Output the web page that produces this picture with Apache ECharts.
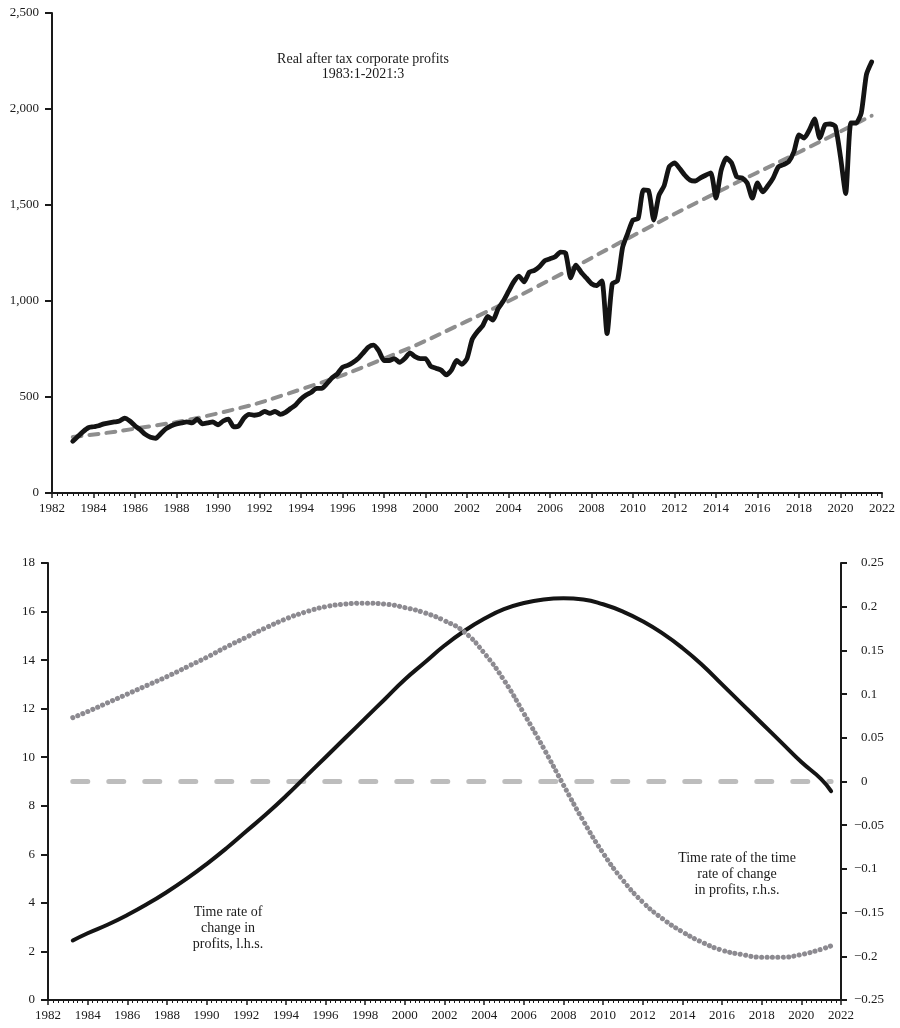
<!DOCTYPE html>
<html>
<head>
<meta charset="utf-8">
<script src="https://cdn.jsdelivr.net/npm/echarts@6/dist/echarts.min.js"></script>
<style>
html,body{margin:0;padding:0;background:#fff;}
#c{width:900px;height:1028px;}
</style>
</head>
<body>
<div id="c"></div>
<script>
// ---- Top panel: real after tax corporate profits, quarterly 1983:1 - 2021:3 ----
const profitsStart = 1983;
const profits = [
  270, 295, 320, 340,
  345, 350, 360, 365,
  370, 375, 390, 375,
  350, 330, 305, 290,
  285, 310, 335, 350,
  360, 365, 370, 365,
  385, 360, 365, 370,
  355, 375, 385, 345,
  350, 390, 410, 405,
  410, 425, 415, 425,
  410, 420, 440, 460,
  490, 510, 525, 545,
  545, 570, 600, 620,
  655, 665, 680, 700,
  730, 760, 770, 740,
  690, 690, 700, 680,
  700, 730, 710, 700,
  700, 660, 650, 640,
  615, 640, 690, 670,
  700, 800, 840, 870,
  920, 900, 960, 1000,
  1050, 1100, 1130, 1100,
  1150, 1160, 1180, 1210,
  1220, 1230, 1255, 1250,
  1120, 1187, 1150, 1120,
  1090, 1080, 1105, 830,
  1090, 1105, 1280, 1354,
  1422, 1430, 1578, 1575,
  1422, 1550, 1600, 1700,
  1719, 1690, 1655, 1630,
  1625, 1641, 1655, 1667,
  1536, 1682, 1745, 1719,
  1646, 1641, 1615, 1536,
  1615, 1568, 1600, 1640,
  1698, 1710, 1725, 1776,
  1865, 1849, 1891, 1948,
  1849, 1917, 1922, 1910,
  1750, 1560, 1927, 1927,
  1979, 2180, 2245
];
const trendYears  = [1983, 1986, 1990, 1994, 1998, 2002, 2006, 2010, 2014, 2018, 2021.5];
const trendValues = [292, 335, 415, 540, 700, 895, 1110, 1340, 1563, 1775, 1965];

// ---- Bottom panel ----
const rateYears = [1983.25,1984,1985,1986,1987,1988,1989,1990,1991,1992,1993,1994,1995,1996,1997,1998,1999,2000,2001,2002,2003,2004,2005,2006,2007,2008,2009,2010,2011,2012,2013,2014,2015,2016,2017,2018,2019,2020,2021,2021.5];
const rateLhs = [2.45,2.75,3.1,3.5,3.95,4.45,5.0,5.6,6.25,6.95,7.65,8.4,9.2,10.0,10.8,11.6,12.4,13.2,13.9,14.6,15.2,15.7,16.1,16.35,16.5,16.55,16.5,16.3,16.0,15.6,15.1,14.5,13.8,13.0,12.2,11.4,10.6,9.8,9.1,8.6];
const rateRhs = [0.073,0.080,0.090,0.100,0.110,0.120,0.131,0.142,0.154,0.165,0.176,0.186,0.194,0.200,0.203,0.204,0.203,0.199,0.193,0.184,0.171,0.147,0.116,0.078,0.038,-0.004,-0.045,-0.082,-0.113,-0.138,-0.157,-0.172,-0.184,-0.193,-0.198,-0.201,-0.201,-0.198,-0.192,-0.188];
const zeroYears = [1983.25, 2021.5];
const zeroValues = [0, 0];

const FONT = '"Liberation Serif", "DejaVu Serif", serif';
const INK = '#1a1a1a';

const profitsData = profits.map((v, i) => [profitsStart + i * 0.25, v]);
const trendData = trendYears.map((y, i) => [y, trendValues[i]]);
const lhsData = rateYears.map((y, i) => [y, rateLhs[i]]);
const rhsData = rateYears.map((y, i) => [y, rateRhs[i]]);
const zeroData = zeroYears.map((y, i) => [y, zeroValues[i]]);

function xAxisCfg(gridIndex) {
  return {
    type: 'value', gridIndex, min: 1982, max: 2022, interval: 2,
    axisLine: { show: true, onZero: false, lineStyle: { color: INK, width: 2 } },
    axisTick: { show: true, length: 5, lineStyle: { color: INK, width: 1.5 } },
    minorTick: { show: true, splitNumber: 8, length: 3, lineStyle: { color: INK, width: 1 } },
    splitLine: { show: false }, minorSplitLine: { show: false },
    axisLabel: { fontFamily: FONT, fontSize: 13, color: INK, margin: 9, formatter: v => String(v) }
  };
}

function txt(x, y, s) {
  return { type: 'text', x, y, style: { text: s, font: '14px ' + FONT, fill: INK,
    align: 'center', verticalAlign: 'middle', textAlign: 'center', textVerticalAlign: 'middle' } };
}

const option = {
  animation: false,
  backgroundColor: '#fff',
  grid: [
    { left: 52, right: 18, top: 13, height: 480, containLabel: false },
    { left: 48, right: 59, top: 563, height: 437, containLabel: false }
  ],
  xAxis: [xAxisCfg(0), xAxisCfg(1)],
  yAxis: [
    {
      type: 'value', gridIndex: 0, min: 0, max: 2500, interval: 500,
      axisLine: { show: true, onZero: false, lineStyle: { color: INK, width: 2 } },
      axisTick: { show: true, length: 7, lineStyle: { color: INK, width: 2 } },
      splitLine: { show: false },
      axisLabel: { fontFamily: FONT, fontSize: 13, color: INK, margin: 13 }
    },
    {
      type: 'value', gridIndex: 1, min: 0, max: 18, interval: 2,
      axisLine: { show: true, onZero: false, lineStyle: { color: INK, width: 2 } },
      axisTick: { show: true, length: 7, lineStyle: { color: INK, width: 2 } },
      splitLine: { show: false },
      axisLabel: { fontFamily: FONT, fontSize: 13, color: INK, margin: 13 }
    },
    {
      type: 'value', gridIndex: 1, position: 'right', min: -0.25, max: 0.25, interval: 0.05,
      axisLine: { show: true, onZero: false, lineStyle: { color: INK, width: 2 } },
      axisTick: { show: true, length: 6, lineStyle: { color: INK, width: 2 } },
      splitLine: { show: false },
      axisLabel: {
        fontFamily: FONT, fontSize: 13, color: INK, margin: 13, align: 'left',
        formatter: v => {
          const r = Math.round(v * 100) / 100;
          if (r < 0) return '{n|\u2212' + String(Math.abs(r)) + '}';
          return '{p|' + String(r) + '}';
        },
        rich: {
          p: { fontFamily: FONT, fontSize: 13, color: INK, padding: [0, 0, 0, 7] },
          n: { fontFamily: FONT, fontSize: 13, color: INK }
        }
      }
    }
  ],
  series: [
    {
      name: 'Trend', type: 'line', xAxisIndex: 0, yAxisIndex: 0, data: trendData,
      smooth: true, showSymbol: false, z: 2,
      lineStyle: { color: '#8e8e8e', width: 4, type: [9, 8], cap: 'round' }
    },
    {
      name: 'Profits', type: 'line', xAxisIndex: 0, yAxisIndex: 0, data: profitsData,
      smooth: 0.2, showSymbol: false, z: 3,
      lineStyle: { color: '#141414', width: 4.8, join: 'round', cap: 'round' }
    },
    {
      name: 'Zero', type: 'line', xAxisIndex: 1, yAxisIndex: 2, data: zeroData,
      showSymbol: false, z: 2,
      lineStyle: { color: '#bdbdbd', width: 5, type: [15, 21], cap: 'round' }
    },
    {
      name: 'Rate lhs', type: 'line', xAxisIndex: 1, yAxisIndex: 1, data: lhsData,
      smooth: true, showSymbol: false, z: 3,
      lineStyle: { color: '#141414', width: 4, cap: 'round' }
    },
    {
      name: 'Rate rhs', type: 'line', xAxisIndex: 1, yAxisIndex: 2, data: rhsData,
      smooth: true, showSymbol: false, z: 4,
      lineStyle: { color: '#8c8a90', width: 5, type: [0.1, 5.3], cap: 'round' }
    }
  ],
  graphic: [
    txt(363, 59, 'Real after tax corporate profits'),
    txt(363, 74, '1983:1-2021:3'),
    txt(228, 912, 'Time rate of'),
    txt(228, 928, 'change in'),
    txt(228, 944, 'profits, l.h.s.'),
    txt(737, 858, 'Time rate of the time'),
    txt(737, 874, 'rate of change'),
    txt(737, 890, 'in profits, r.h.s.')
  ]
};

const chart = echarts.init(document.getElementById('c'), null, { renderer: 'canvas' });
chart.setOption(option);
</script>
</body>
</html>
